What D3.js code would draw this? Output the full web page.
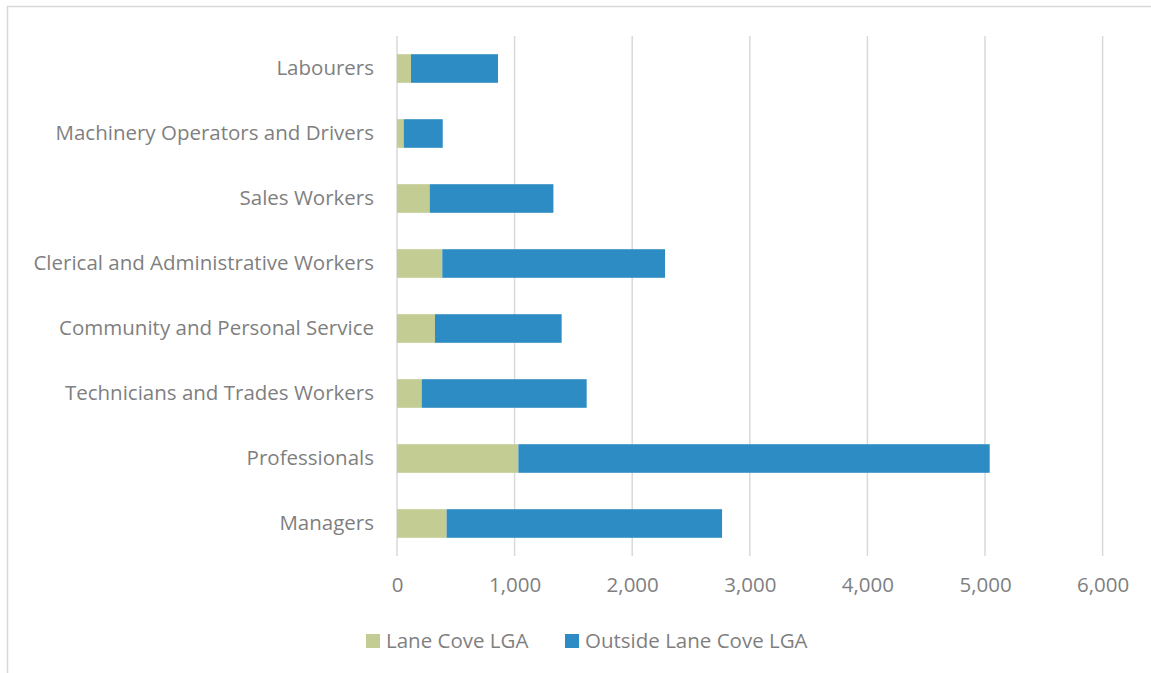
<!DOCTYPE html>
<html>
<head>
<meta charset="utf-8">
<script src="https://cdn.jsdelivr.net/npm/d3@7"></script>
<style>
  html, body { margin: 0; padding: 0; background: #fff; }
  svg { display: block; font-family: "Open Sans", sans-serif; }
</style>
</head>
<body>
<svg id="chart" width="1151" height="673"></svg>
<script>
// Occupation categories, listed bottom to top as drawn
const categories = [
  "Managers",
  "Professionals",
  "Technicians and Trades Workers",
  "Community and Personal Service",
  "Clerical and Administrative Workers",
  "Sales Workers",
  "Machinery Operators and Drivers",
  "Labourers"
];
const laneCove = [422, 1032, 210, 323, 385, 278, 57, 119];
const outsideLaneCove = [2342, 4008, 1403, 1077, 1894, 1052, 332, 740];
const seriesNames = ["Lane Cove LGA", "Outside Lane Cove LGA"];
const xTicks = [0, 1000, 2000, 3000, 4000, 5000, 6000];

const colors = ["#c3cc93", "#2e8cc4"];
const textColor = "#7f7f7f";
const fontFamily = "'Open Sans', sans-serif";
const fontSize = "20.5px";

const svg = d3.select("#chart");

// Outer chart-area frame
svg.append("rect")
  .attr("x", 7.5).attr("y", 6.5)
  .attr("width", 1160).attr("height", 680)
  .attr("fill", "none").attr("stroke", "#d9d9d9").attr("stroke-width", 1.5);

const plot = { left: 397, right: 1102.6, top: 36, bottom: 556 };

const x = d3.scaleLinear().domain([0, 6000]).range([plot.left, plot.right]);
const y = d3.scaleBand()
  .domain(categories.slice().reverse())
  .range([plot.top, plot.bottom])
  .paddingInner(0.56).paddingOuter(0.28);

// Vertical gridlines
svg.append("g").selectAll("line")
  .data(xTicks)
  .join("line")
  .attr("x1", d => x(d)).attr("x2", d => x(d))
  .attr("y1", plot.top).attr("y2", plot.bottom)
  .attr("stroke", "#d9d9d9").attr("stroke-width", 1.5);

// Stacked bars
const rows = categories.map((c, i) => ({ cat: c, a: laneCove[i], b: outsideLaneCove[i] }));
const stack = d3.stack().keys(["a", "b"])(rows);

svg.append("g").selectAll("g")
  .data(stack)
  .join("g")
  .attr("fill", (d, i) => colors[i])
  .selectAll("rect")
  .data(d => d)
  .join("rect")
  .attr("x", d => x(d[0]))
  .attr("width", d => x(d[1]) - x(d[0]))
  .attr("y", d => y(d.data.cat))
  .attr("height", y.bandwidth());

// Category axis labels
const yAxis = d3.axisLeft(y).tickSize(0).tickPadding(23);
const gy = svg.append("g").attr("transform", `translate(${plot.left},0)`).call(yAxis);
gy.select(".domain").remove();
gy.selectAll("text")
  .attr("fill", textColor)
  .style("font-size", fontSize)
  .style("font-family", fontFamily);

// Value axis labels
const xAxis = d3.axisBottom(x).tickValues(xTicks).tickSize(0).tickPadding(21)
  .tickFormat(d3.format(","));
const gx = svg.append("g").attr("transform", `translate(0,${plot.bottom})`).call(xAxis);
gx.select(".domain").remove();
gx.selectAll("text")
  .attr("fill", textColor)
  .style("font-size", fontSize)
  .style("font-family", fontFamily);

// Legend
const legendItems = [
  { name: seriesNames[0], color: colors[0], x: 366 },
  { name: seriesNames[1], color: colors[1], x: 565 }
];
const lg = svg.append("g").selectAll("g")
  .data(legendItems)
  .join("g")
  .attr("transform", d => `translate(${d.x},634)`);
lg.append("rect").attr("width", 14).attr("height", 14).attr("fill", d => d.color);
lg.append("text")
  .attr("x", 20).attr("y", 7).attr("dy", "0.35em")
  .attr("fill", textColor)
  .style("font-size", fontSize)
  .style("font-family", fontFamily)
  .text(d => d.name);
</script>
</body>
</html>
